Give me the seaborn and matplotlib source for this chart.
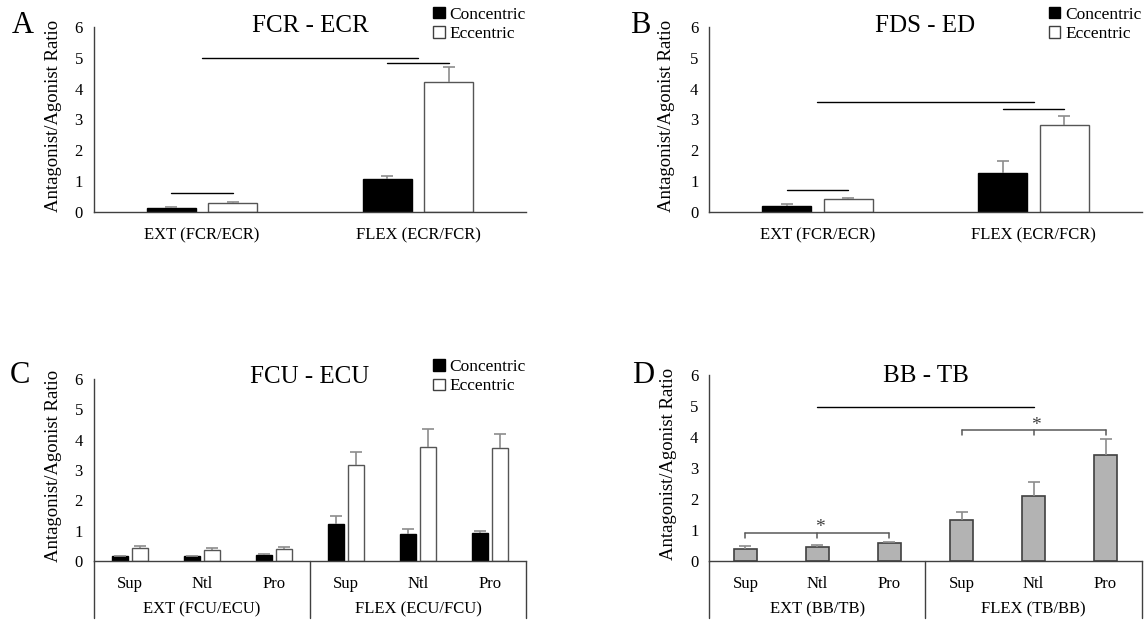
import numpy as np
import pandas as pd
import matplotlib
matplotlib.use("Agg")
import matplotlib.pyplot as plt
from matplotlib.patches import Patch
import seaborn as sns

sns.set_theme(style="white")
plt.rcParams["font.family"] = ["Liberation Serif", "DejaVu Serif"]
plt.rcParams["text.color"] = "black"
plt.rcParams["axes.labelcolor"] = "black"
plt.rcParams["xtick.color"] = "black"
plt.rcParams["ytick.color"] = "black"

# ---------------- data ----------------
modes = ["Concentric", "Eccentric"]

A_title = "FCR - ECR"
A_cats = ["EXT (FCR/ECR)", "FLEX (ECR/FCR)"]
A_conc = [0.13, 1.08]
A_conc_se = [0.03, 0.10]
A_ecc = [0.29, 4.20]
A_ecc_se = [0.04, 0.49]

B_title = "FDS - ED"
B_cats = ["EXT (FCR/ECR)", "FLEX (ECR/FCR)"]
B_conc = [0.20, 1.26]
B_conc_se = [0.06, 0.38]
B_ecc = [0.41, 2.83]
B_ecc_se = [0.04, 0.28]

positions = ["Sup", "Ntl", "Pro"]

C_title = "FCU - ECU"
C_groups = ["EXT (FCU/ECU)", "FLEX (ECU/FCU)"]
C_conc = [0.16, 0.15, 0.19, 1.22, 0.90, 0.93]
C_conc_se = [0.02, 0.01, 0.04, 0.26, 0.15, 0.06]
C_ecc = [0.44, 0.36, 0.41, 3.15, 3.77, 3.72]
C_ecc_se = [0.04, 0.06, 0.05, 0.44, 0.57, 0.46]

D_title = "BB - TB"
D_groups = ["EXT (BB/TB)", "FLEX (TB/BB)"]
D_vals = [0.39, 0.46, 0.58, 1.31, 2.11, 3.43]
D_se = [0.11, 0.07, 0.045, 0.28, 0.44, 0.49]

# significance markers (y values)
A_sig = {"long": 5.0, "ext": 0.61, "flex": 4.83}
B_sig = {"long": 3.58, "ext": 0.71, "flex": 3.33}
D_sig = {"long": 4.98, "ext": 0.905, "flex": 4.22, "drop": 0.16}

YLABEL = "Antagonist/Agonist Ratio"

# ---------------- layout ----------------
W, H = 1148, 622
fig = plt.figure(figsize=(W / 100, H / 100), dpi=100)


def rect(x0, x1, ytop, ybot):
    return [x0 / W, 1 - ybot / H, (x1 - x0) / W, (ybot - ytop) / H]


axA = fig.add_axes(rect(94, 526, 27, 212))
axB = fig.add_axes(rect(709.5, 1141.5, 27, 212))
axC = fig.add_axes(rect(94, 526, 379, 561))
axD = fig.add_axes(rect(709.5, 1141.5, 375, 561))

SPINE = "#404040"
ERR = "#8c8c8c"
ECC_EDGE = "#555555"


def style_axis(ax, lab_x):
    ax.set_ylim(0, 6)
    ax.set_yticks(range(0, 7))
    for s in ["top", "right"]:
        ax.spines[s].set_visible(False)
    for s in ["left", "bottom"]:
        ax.spines[s].set_color(SPINE)
        ax.spines[s].set_linewidth(1)
    ax.tick_params(axis="y", length=0, pad=8, labelsize=12)
    ax.tick_params(axis="x", length=0, pad=11, labelsize=12)
    ax.set_xlabel("")
    ax.set_ylabel(YLABEL, fontsize=13.5)
    ax.yaxis.set_label_coords(lab_x, 0.52)
    ax.grid(False)


def add_errors(ax, containers, ses, color=ERR):
    for cont, se in zip(containers, ses):
        xs = np.array([b.get_x() + b.get_width() / 2 for b in cont])
        tops = np.array([b.get_height() for b in cont])
        eb = ax.errorbar(xs, tops, yerr=[np.zeros(len(se)), np.array(se)],
                         fmt="none", ecolor=color, elinewidth=1.2,
                         capsize=4, capthick=1.2, zorder=1.5)
        for cl in eb[1]:
            if np.allclose(cl.get_ydata(), tops):
                cl.set_visible(False)


def hue_panel(ax, cats, conc, conc_se, ecc, ecc_se):
    df = pd.DataFrame({
        "cat": list(cats) * 2,
        "mode": ["Concentric"] * len(cats) + ["Eccentric"] * len(cats),
        "val": list(conc) + list(ecc),
    })
    sns.barplot(data=df, x="cat", y="val", hue="mode", order=list(cats),
                hue_order=modes, palette={"Concentric": "black", "Eccentric": "white"},
                width=0.57, gap=0.2, errorbar=None, legend=False, saturation=1,
                linewidth=1, edgecolor="black", ax=ax)
    conts = list(ax.containers)
    for b in conts[1]:
        b.set_edgecolor(ECC_EDGE)
    add_errors(ax, conts, [conc_se, ecc_se])
    return conts


def legend(ax, ytop):
    handles = [Patch(facecolor="black", edgecolor="black", label="Concentric"),
               Patch(facecolor="white", edgecolor="#404040", label="Eccentric")]
    ax.legend(handles=handles, loc="upper right", bbox_to_anchor=(1.0, ytop),
              frameon=False, fontsize=12.5, handlelength=0.65, handleheight=0.65,
              handletextpad=0.3, labelspacing=0.2, borderpad=0, borderaxespad=0)


def centers(cont):
    return [b.get_x() + b.get_width() / 2 for b in cont]


# ---------------- Panel A ----------------
conts = hue_panel(axA, A_cats, A_conc, A_conc_se, A_ecc, A_ecc_se)
style_axis(axA, -0.074)
cc, ec = centers(conts[0]), centers(conts[1])
axA.plot([0, 1], [A_sig["long"]] * 2, color="black", lw=1)
axA.plot([cc[0], ec[0]], [A_sig["ext"]] * 2, color="black", lw=1)
axA.plot([cc[1], ec[1]], [A_sig["flex"]] * 2, color="black", lw=1)
axA.text(0.5, 0.973, A_title, transform=axA.transAxes, ha="center", va="baseline", fontsize=18)
legend(axA, 1.11)
axA.set_xlim(-0.5, len(A_cats) - 0.5)

# ---------------- Panel B ----------------
conts = hue_panel(axB, B_cats, B_conc, B_conc_se, B_ecc, B_ecc_se)
style_axis(axB, -0.081)
cc, ec = centers(conts[0]), centers(conts[1])
axB.plot([0, 1], [B_sig["long"]] * 2, color="black", lw=1)
axB.plot([cc[0], ec[0]], [B_sig["ext"]] * 2, color="black", lw=1)
axB.plot([cc[1], ec[1]], [B_sig["flex"]] * 2, color="black", lw=1)
axB.text(0.5, 0.973, B_title, transform=axB.transAxes, ha="center", va="baseline", fontsize=18)
legend(axB, 1.11)
axB.set_xlim(-0.5, len(B_cats) - 0.5)


def multilevel(ax, groups, depth):
    tr = ax.get_xaxis_transform()
    n = len(positions)
    for g, name in enumerate(groups):
        ax.text(g * n + (n - 1) / 2, -48 / depth, name, transform=tr,
                ha="center", va="center", fontsize=12)
    for xb in [-0.5, n - 0.5, 2 * n - 0.5]:
        ax.plot([xb, xb], [0, -57 / depth], transform=tr, clip_on=False,
                color=SPINE, lw=1)
    ax.set_xticks(range(2 * n))
    ax.set_xticklabels(positions * 2)
    ax.set_xlim(-0.5, 2 * n - 0.5)


# ---------------- Panel C ----------------
C_keys = [f"{g}|{p}" for g in C_groups for p in positions]
conts = hue_panel(axC, C_keys, C_conc, C_conc_se, C_ecc, C_ecc_se)
style_axis(axC, -0.074)
multilevel(axC, C_groups, 182)
axC.text(0.5, 0.978, C_title, transform=axC.transAxes, ha="center", va="baseline", fontsize=18)
legend(axC, 1.11)

# ---------------- Panel D ----------------
D_keys = [f"{g}|{p}" for g in D_groups for p in positions]
dfD = pd.DataFrame({"cat": D_keys, "val": D_vals})
sns.barplot(data=dfD, x="cat", y="val", order=D_keys, color="#b3b3b3",
            width=0.32, errorbar=None, saturation=1, linewidth=1.2,
            edgecolor="#404040", ax=axD)
add_errors(axD, [axD.containers[0]], [D_se])
style_axis(axD, -0.076)
BR = "#595959"
axD.plot([1, 4], [D_sig["long"]] * 2, color="black", lw=1)
for (i0, i1), yb in [((0, 2), D_sig["ext"]), ((3, 5), D_sig["flex"])]:
    axD.plot([i0, i1], [yb, yb], color=BR, lw=1.1)
    for xi in (i0, (i0 + i1) / 2, i1):
        axD.plot([xi, xi], [yb, yb - D_sig["drop"]], color=BR, lw=1.1)
    axD.text((i0 + i1) / 2 + 0.04, yb + 0.02, "*", ha="center", va="baseline",
             fontsize=14, color="#404040")
multilevel(axD, D_groups, 186)
axD.text(0.5, 0.962, D_title, transform=axD.transAxes, ha="center", va="baseline", fontsize=18)

# ---------------- panel letters ----------------
for lab, x, y in [("A", 12, 33), ("B", 630, 33), ("C", 10, 383), ("D", 632, 383)]:
    fig.text(x / W, 1 - y / H, lab, ha="left", va="baseline", fontsize=22)

fig.savefig("out.png", dpi=100)
